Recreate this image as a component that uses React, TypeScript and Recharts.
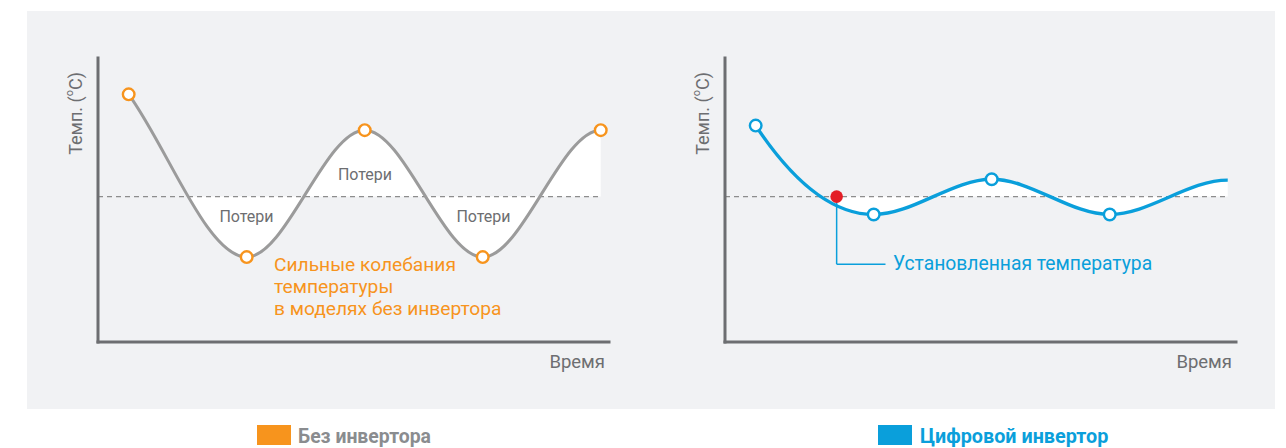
import React from 'react';
import { ComposedChart, Area, Line, XAxis, YAxis, ReferenceLine, ReferenceDot } from 'recharts';

// time steps (x) and temperatures, y axis 0..10
const TIME = [0, 1, 2, 3, 4];
const NO_INVERTER = [8.72, 2.99, 7.46, 2.99, 7.46];
const DIGITAL_INVERTER = [7.62, 4.49, 5.73, 4.49, 5.7];
const SETPOINT = 5.12;
const SETPOINT_REACHED_AT = 0.686;
const CALLOUT_Y = 2.74;
const CALLOUT_X_END = 1.1;

const LOSS_LABELS = [
  { x: 365, y: 180 },
  { x: 246.5, y: 222 },
  { x: 483.5, y: 222 },
];
const SWING_NOTE = ['Сильные колебания', 'температуры', 'в моделях без инвертора'];

const ORANGE = '#f7941d';
const BLUE = '#0a9fdb';
const GRAY_TEXT = '#6d6e71';
const AXIS = '#6d6e71';

const W = 640;
const H = 400;
const MARGIN = { top: 58, right: 31, bottom: 26, left: 68 };
const X_DOMAIN: [number, number] = [-0.26, 4.07];

// cubic curve: flat tangents on every point but the first one
const makeCurve = (startTangent: number) => (context: any) => {
  let xs: number[] = [];
  let ys: number[] = [];
  let line = NaN;
  return {
    areaStart() { line = 0; },
    areaEnd() { line = NaN; },
    lineStart() { xs = []; ys = []; },
    point(x: number, y: number) { xs.push(+x); ys.push(+y); },
    lineEnd() {
      const n = xs.length;
      if (n > 0) {
        if (line) context.lineTo(xs[0], ys[0]);
        else context.moveTo(xs[0], ys[0]);
        for (let i = 0; i < n - 1; i++) {
          const h = xs[i + 1] - xs[i];
          const m0 = i === 0 ? (startTangent * (ys[1] - ys[0])) / h : 0;
          context.bezierCurveTo(
            xs[i] + h / 3, ys[i] + (m0 * h) / 3,
            xs[i + 1] - h / 3, ys[i + 1],
            xs[i + 1], ys[i + 1]
          );
        }
      }
      if (line || (line !== 0 && n === 1)) context.closePath();
      line = 1 - line;
    },
  };
};

const ringDot = (color: string, skipLast: boolean) => (props: any) => {
  const { cx, cy, index } = props;
  if (skipLast && index === TIME.length - 1) return <g key={`dot-${index}`} />;
  return <circle key={`dot-${index}`} cx={cx} cy={cy} r={5.8} fill="#fff" stroke={color} strokeWidth={2.4} />;
};

const yLabel = (props: any) => {
  const vb = props.viewBox;
  const x = vb.x + 7;
  const y = vb.y + 14;
  return (
    <text x={x} y={y} transform={`rotate(-90 ${x} ${y})`} textAnchor="end" dominantBaseline="central"
      fill={GRAY_TEXT} fontSize={18} fontFamily="Roboto, sans-serif">
      Темп. (<tspan fontSize={11} dy={-6}>o</tspan><tspan dy={6}>C)</tspan>
    </text>
  );
};

const xLabel = (props: any) => {
  const vb = props.viewBox;
  return (
    <text x={vb.x + vb.width - 4} y={vb.y + 26} textAnchor="end" fill={GRAY_TEXT} fontSize={18.5} fontFamily="Roboto, sans-serif">
      Время
    </text>
  );
};

interface PanelProps {
  values: number[];
  color: string;
  lineColor: string;
  width: number;
  startTangent: number;
  fillFrom: number;
  id: string;
  skipLast: boolean;
  children?: React.ReactNode;
}

const Panel: React.FC<PanelProps> = ({ values, color, lineColor, width, startTangent, fillFrom, id, skipLast, children }) => {
  const data = TIME.map((t, i) => ({ t, temp: values[i] }));
  const curve = makeCurve(startTangent);
  return (
    <ComposedChart width={W} height={H} data={data} margin={MARGIN}>
      <defs>
        <linearGradient id={id} x1="0" y1="0" x2="1" y2="0">
          <stop offset={fillFrom} stopColor="#fff" stopOpacity={0} />
          <stop offset={fillFrom} stopColor="#fff" stopOpacity={1} />
        </linearGradient>
      </defs>
      <XAxis type="number" dataKey="t" domain={X_DOMAIN} allowDataOverflow tick={false} tickLine={false} height={32}
        axisLine={{ stroke: AXIS, strokeWidth: 3, strokeLinecap: 'square' }} label={{ content: xLabel }} />
      <YAxis type="number" domain={[0, 10]} allowDataOverflow tick={false} tickLine={false} width={30}
        axisLine={{ stroke: AXIS, strokeWidth: 3, strokeLinecap: 'square' }} label={{ content: yLabel }} />
      <Area dataKey="temp" type={curve as any} baseValue={SETPOINT} stroke="none" fill={`url(#${id})`}
        fillOpacity={1} isAnimationActive={false} dot={false} activeDot={false} />
      <ReferenceLine segment={[{ x: X_DOMAIN[0], y: SETPOINT }, { x: 4, y: SETPOINT }]} stroke="#8d8d8d"
        strokeWidth={1.2} strokeDasharray="5 4" />
      {children}
      <Line dataKey="temp" type={curve as any} stroke={lineColor} strokeWidth={width} isAnimationActive={false}
        dot={ringDot(color, skipLast)} activeDot={false} />
    </ComposedChart>
  );
};

export default function App() {
  return (
    <div style={{ position: 'absolute', left: 0, top: 0, width: 1286, height: 448, background: '#fff', fontFamily: 'Roboto, sans-serif', overflow: 'hidden' }}>
      <div style={{ position: 'absolute', left: 27, top: 11, width: 1248, height: 398, background: '#f1f2f4' }} />
      <div style={{ position: 'absolute', left: 0, top: 0 }}>
        <Panel values={NO_INVERTER} color={ORANGE} lineColor="#9b9b9b" width={3} startTangent={1} fillFrom={0.128} id="fillLeft" skipLast={false} />
      </div>
      <div style={{ position: 'absolute', left: 627, top: 0 }}>
        <Panel values={DIGITAL_INVERTER} color={BLUE} lineColor={BLUE} width={3.4} startTangent={2} fillFrom={0.171} id="fillRight" skipLast>
          <ReferenceLine segment={[{ x: SETPOINT_REACHED_AT, y: SETPOINT }, { x: SETPOINT_REACHED_AT, y: CALLOUT_Y }]} stroke={BLUE} strokeWidth={1.5} />
          <ReferenceLine segment={[{ x: SETPOINT_REACHED_AT, y: CALLOUT_Y }, { x: CALLOUT_X_END, y: CALLOUT_Y }]} stroke={BLUE} strokeWidth={1.5} />
          <ReferenceDot x={SETPOINT_REACHED_AT} y={SETPOINT} r={6.3} fill="#e41e26" stroke="none" />
        </Panel>
      </div>
      <svg width={1286} height={448} style={{ position: 'absolute', left: 0, top: 0, pointerEvents: 'none' }} fontFamily="Roboto, sans-serif">
        {LOSS_LABELS.map((l, i) => (
          <text key={i} x={l.x} y={l.y} textAnchor="middle" fontSize={16} fill={GRAY_TEXT}>Потери</text>
        ))}
        {SWING_NOTE.map((s, i) => (
          <text key={s} x={274} y={271 + i * 22} fontSize={19.2} fill={ORANGE}>{s}</text>
        ))}
        <text x={893} y={270} fontSize={19.3} fill={BLUE}>Установленная температура</text>
        <rect x={257} y={425} width={34} height={20} fill={ORANGE} />
        <text x={298} y={443} fontSize={19.4} fontWeight={700} fill="#8a8c8f">Без инвертора</text>
        <rect x={878} y={425} width={34} height={20} fill={BLUE} />
        <text x={920} y={443} fontSize={19.8} fontWeight={700} fill={BLUE}>Цифровой инвертор</text>
      </svg>
    </div>
  );
}
